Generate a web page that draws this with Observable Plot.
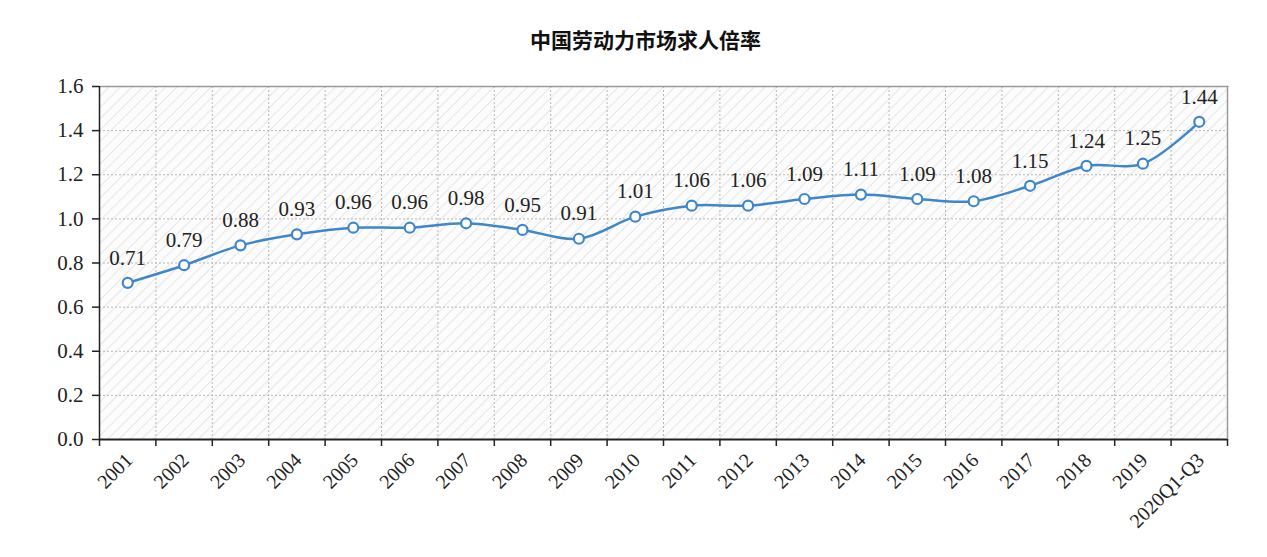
<!DOCTYPE html>
<html><head><meta charset="utf-8">
<script src="https://cdn.jsdelivr.net/npm/d3@7"></script>
<script src="https://cdn.jsdelivr.net/npm/@observablehq/plot@0.6"></script>
<style>
body{margin:0;background:#fff;}
#title{height:70px;box-sizing:border-box;padding-top:25px;padding-left:24px;text-align:center;font-family:"Noto Sans CJK SC";font-weight:bold;font-size:21px;line-height:28px;color:#111;}
#chart svg{display:block;}
</style></head><body>
<div id="title">中国劳动力市场求人倍率</div>
<div id="chart"></div>
<script>
const categories = ["2001","2002","2003","2004","2005","2006","2007","2008","2009","2010","2011","2012","2013","2014","2015","2016","2017","2018","2019","2020Q1-Q3"];
const values = [0.71,0.79,0.88,0.93,0.96,0.96,0.98,0.95,0.91,1.01,1.06,1.06,1.09,1.11,1.09,1.08,1.15,1.24,1.25,1.44];
const yTicks = [0,0.2,0.4,0.6,0.8,1.0,1.2,1.4,1.6];

const data = categories.map((c,i)=>({c, i: i+0.5, v: values[i]}));
const xBounds = d3.range(0, categories.length+1);
const blue = "#3f87ca";

const chart = Plot.plot({
  width:1267, height:487,
  marginLeft:99, marginRight:40, marginTop:16, marginBottom:118,
  x:{domain:[0,categories.length], axis:null, label:null},
  y:{domain:[0,1.6], axis:null, label:null},
  style:{fontFamily:"'Liberation Serif', serif", fontSize:"20px", color:"#222", background:"#fff", overflow:"visible"},
  marks:[
    Plot.frame({fill:"url(#hatch)", stroke:"none"}),
    Plot.gridX(xBounds, {stroke:"#b8b8b8", strokeOpacity:1, strokeDasharray:"2,2"}),
    Plot.gridY(yTicks, {stroke:"#b8b8b8", strokeOpacity:1, strokeDasharray:"2,2"}),
    Plot.frame({anchor:"top", stroke:"#9a9a9a", strokeWidth:1.5}),
    Plot.frame({anchor:"right", stroke:"#9a9a9a", strokeWidth:1.5}),
    Plot.axisY(yTicks, {label:null, tickFormat:d=>d.toFixed(1), tickSize:7, tickPadding:9, stroke:"#222", fontSize:21, strokeWidth:1.5}),
    Plot.axisX(xBounds, {label:null, tickFormat:()=>"", tickSize:7, stroke:"#222", strokeWidth:1.5}),
    Plot.ruleX([0], {stroke:"#222", strokeWidth:1.5}),
    Plot.ruleY([0], {stroke:"#222", strokeWidth:2}),
    Plot.line(data, {x:"i", y:"v", curve:"catmull-rom", stroke:blue, strokeWidth:2.5}),
    Plot.dot(data, {x:"i", y:"v", r:5, fill:"white", stroke:blue, strokeWidth:2.2}),
    Plot.text(data, {x:"i", y:"v", text:d=>d.v.toFixed(2), dy:-25, fontSize:21, fill:"#222"}),
    Plot.text(data, {x:"i", text:"c", frameAnchor:"bottom", rotate:-45, textAnchor:"end", dx:6, dy:22, fontSize:20, fill:"#222"})
  ]
});

const ns = "http://www.w3.org/2000/svg";
const defs = document.createElementNS(ns, "defs");
defs.innerHTML = '<pattern id="hatch" patternUnits="userSpaceOnUse" width="8" height="8" patternTransform="rotate(45)"><rect width="8" height="8" fill="#fcfcfc"/><line x1="0" y1="0" x2="0" y2="8" stroke="#e6e6e6" stroke-width="2"/></pattern>';
chart.insertBefore(defs, chart.firstChild);
document.getElementById("chart").appendChild(chart);
</script>
</body></html>
